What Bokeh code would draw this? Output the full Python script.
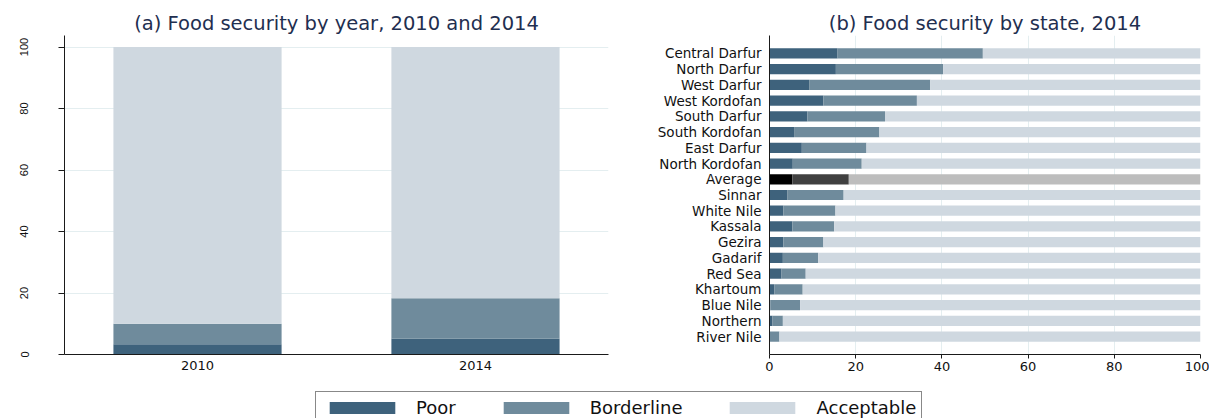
from bokeh.plotting import figure
from bokeh.models import FactorRange, Range1d, ColumnDataSource, Legend, LegendItem
from bokeh.layouts import row, column
from bokeh.embed import file_html
from bokeh.resources import INLINE
from bokeh.core.properties import field

# ---------------- data ----------------
series = ["Poor", "Borderline", "Acceptable"]
value_ticks = [0, 20, 40, 60, 80, 100]

years = ["2010", "2014"]
year_poor = [3.3, 5.2]
year_borderline = [6.7, 13.1]
year_acceptable = [90.0, 81.7]

states = ["Central Darfur", "North Darfur", "West Darfur", "West Kordofan",
          "South Darfur", "South Kordofan", "East Darfur", "North Kordofan",
          "Average", "Sinnar", "White Nile", "Kassala", "Gezira", "Gadarif",
          "Red Sea", "Khartoum", "Blue Nile", "Northern", "River Nile"]
state_poor = [15.8, 15.4, 9.2, 12.5, 8.8, 5.7, 7.5, 5.4, 5.3, 4.1, 3.2, 5.3,
              3.2, 3.1, 2.8, 1.1, 0.2, 0.7, 0.1]
state_borderline = [33.7, 24.9, 28.1, 21.7, 18.0, 19.8, 15.0, 16.0, 13.1, 13.1,
                    12.1, 9.7, 9.3, 8.2, 5.6, 6.6, 6.9, 2.4, 2.2]
state_acceptable = [50.5, 59.7, 62.7, 65.8, 73.2, 74.5, 77.5, 78.6, 81.6, 82.8,
                    84.7, 85.0, 87.5, 88.7, 91.6, 92.3, 92.9, 96.9, 97.7]

COLORS = ["#3e627c", "#6f8b9c", "#cfd8e0"]
AVG_COLORS = ["#000000", "#404040", "#bdbdbd"]

TITLE_COLOR = "#1f2f50"
TEXT_COLOR = "#111111"
GRID_COLOR = "#e4eef0"
AXIS_COLOR = "#1a1a1a"

# ---------------- panel (a) ----------------
src_a = ColumnDataSource(dict(year=years, Poor=year_poor,
                              Borderline=year_borderline,
                              Acceptable=year_acceptable))

pa = figure(width=628, height=378, output_backend="svg", toolbar_location=None,
            x_range=FactorRange(factors=years, range_padding=-0.0215,
                                range_padding_units="absolute"),
            y_range=Range1d(0, 103.75),
            min_border_left=64, min_border_right=20,
            min_border_top=34, min_border_bottom=21)
pa.vbar_stack(series, x="year", width=0.605, source=src_a,
              fill_color=COLORS, line_color=None)

pa.title.text = "(a) Food security by year, 2010 and 2014"
pa.title.align = "center"
pa.title.text_font = "DejaVu Sans"
pa.title.text_font_size = "19.5px"
pa.title.text_font_style = "normal"
pa.title.text_color = TITLE_COLOR
pa.title.standoff = 2
pa.title.offset = -2

pa.outline_line_color = None
pa.xgrid.visible = False
pa.ygrid.grid_line_color = GRID_COLOR
pa.ygrid.grid_line_width = 1

pa.yaxis.ticker = value_ticks
pa.yaxis.major_label_orientation = "vertical"
pa.yaxis.major_label_text_font = "Liberation Sans"
pa.yaxis.major_label_text_font_size = "11px"
pa.yaxis.major_label_text_color = TEXT_COLOR
pa.yaxis.major_tick_out = 6
pa.yaxis.major_tick_in = 0
pa.yaxis.minor_tick_line_color = None
pa.yaxis.major_label_standoff = 30
pa.yaxis.axis_line_color = AXIS_COLOR
pa.yaxis.major_tick_line_color = AXIS_COLOR

pa.xaxis.major_tick_out = 0
pa.xaxis.major_tick_in = 0
pa.xaxis.major_label_standoff = 6
pa.xaxis.major_label_text_font = "DejaVu Sans"
pa.xaxis.major_label_text_font_size = "13px"
pa.xaxis.major_label_text_color = TEXT_COLOR
pa.xaxis.axis_line_color = AXIS_COLOR

# ---------------- panel (b) ----------------
def state_colors(i):
    return [AVG_COLORS[i] if s == "Average" else COLORS[i] for s in states]

src_b = ColumnDataSource(dict(state=states, Poor=state_poor,
                              Borderline=state_borderline,
                              Acceptable=state_acceptable,
                              c_Poor=state_colors(0),
                              c_Borderline=state_colors(1),
                              c_Acceptable=state_colors(2)))

pb = figure(width=581, height=378, output_backend="svg", toolbar_location=None,
            y_range=FactorRange(factors=states[::-1], range_padding=0.635,
                                range_padding_units="absolute"),
            x_range=Range1d(0, 100),
            min_border_left=141, min_border_right=9,
            min_border_top=35, min_border_bottom=24)
pb.hbar_stack(series, y="state", height=0.65, source=src_b,
              fill_color=[field("c_Poor"), field("c_Borderline"),
                          field("c_Acceptable")],
              line_color=None)

pb.title.text = "(b) Food security by state, 2014"
pb.title.align = "center"
pb.title.text_font = "DejaVu Sans"
pb.title.text_font_size = "19.5px"
pb.title.text_font_style = "normal"
pb.title.text_color = TITLE_COLOR
pb.title.standoff = 2
pb.title.offset = 6

pb.outline_line_color = None
pb.ygrid.visible = False
pb.xgrid.grid_line_color = GRID_COLOR
pb.xgrid.grid_line_width = 1

pb.xaxis.ticker = value_ticks
pb.xaxis.major_label_text_font = "DejaVu Sans"
pb.xaxis.major_label_text_font_size = "13px"
pb.xaxis.major_label_text_color = TEXT_COLOR
pb.xaxis.major_tick_out = 4
pb.xaxis.major_tick_in = 0
pb.xaxis.minor_tick_line_color = None
pb.xaxis.major_label_standoff = 3
pb.xaxis.axis_line_color = AXIS_COLOR
pb.xaxis.major_tick_line_color = AXIS_COLOR

pb.yaxis.major_tick_out = 0
pb.yaxis.major_tick_in = 0
pb.yaxis.major_label_standoff = 8
pb.yaxis.major_label_text_font = "DejaVu Sans"
pb.yaxis.major_label_text_font_size = "13.5px"
pb.yaxis.major_label_text_color = TEXT_COLOR
pb.yaxis.axis_line_color = AXIS_COLOR

# ---------------- legend ----------------
pl = figure(width=1209, height=40, output_backend="svg", toolbar_location=None,
            x_axis_type=None, y_axis_type=None,
            x_range=Range1d(0, 1), y_range=Range1d(0, 1), min_border=0)
pl.outline_line_color = None
pl.grid.visible = False
nan = float("nan")
leg_renderers = [pl.vbar(x=[nan], top=[nan], width=0.1, fill_color=c,
                         line_color=None)
                 for c in COLORS]
legend = Legend(items=[LegendItem(label=s, renderers=[r])
                       for s, r in zip(series, leg_renderers)],
                orientation="horizontal", location=(315, -6),
                glyph_width=82, glyph_height=15, label_standoff=13,
                spacing=39, padding=5,
                border_line_color="#111111", border_line_width=1,
                background_fill_color="white", background_fill_alpha=1,
                label_text_font="DejaVu Sans", label_text_font_size="18px",
                label_text_color=TEXT_COLOR)
pl.add_layout(legend)

layout = column(row(pa, pb), pl)
open("out.html", "w").write(file_html(layout, INLINE))
